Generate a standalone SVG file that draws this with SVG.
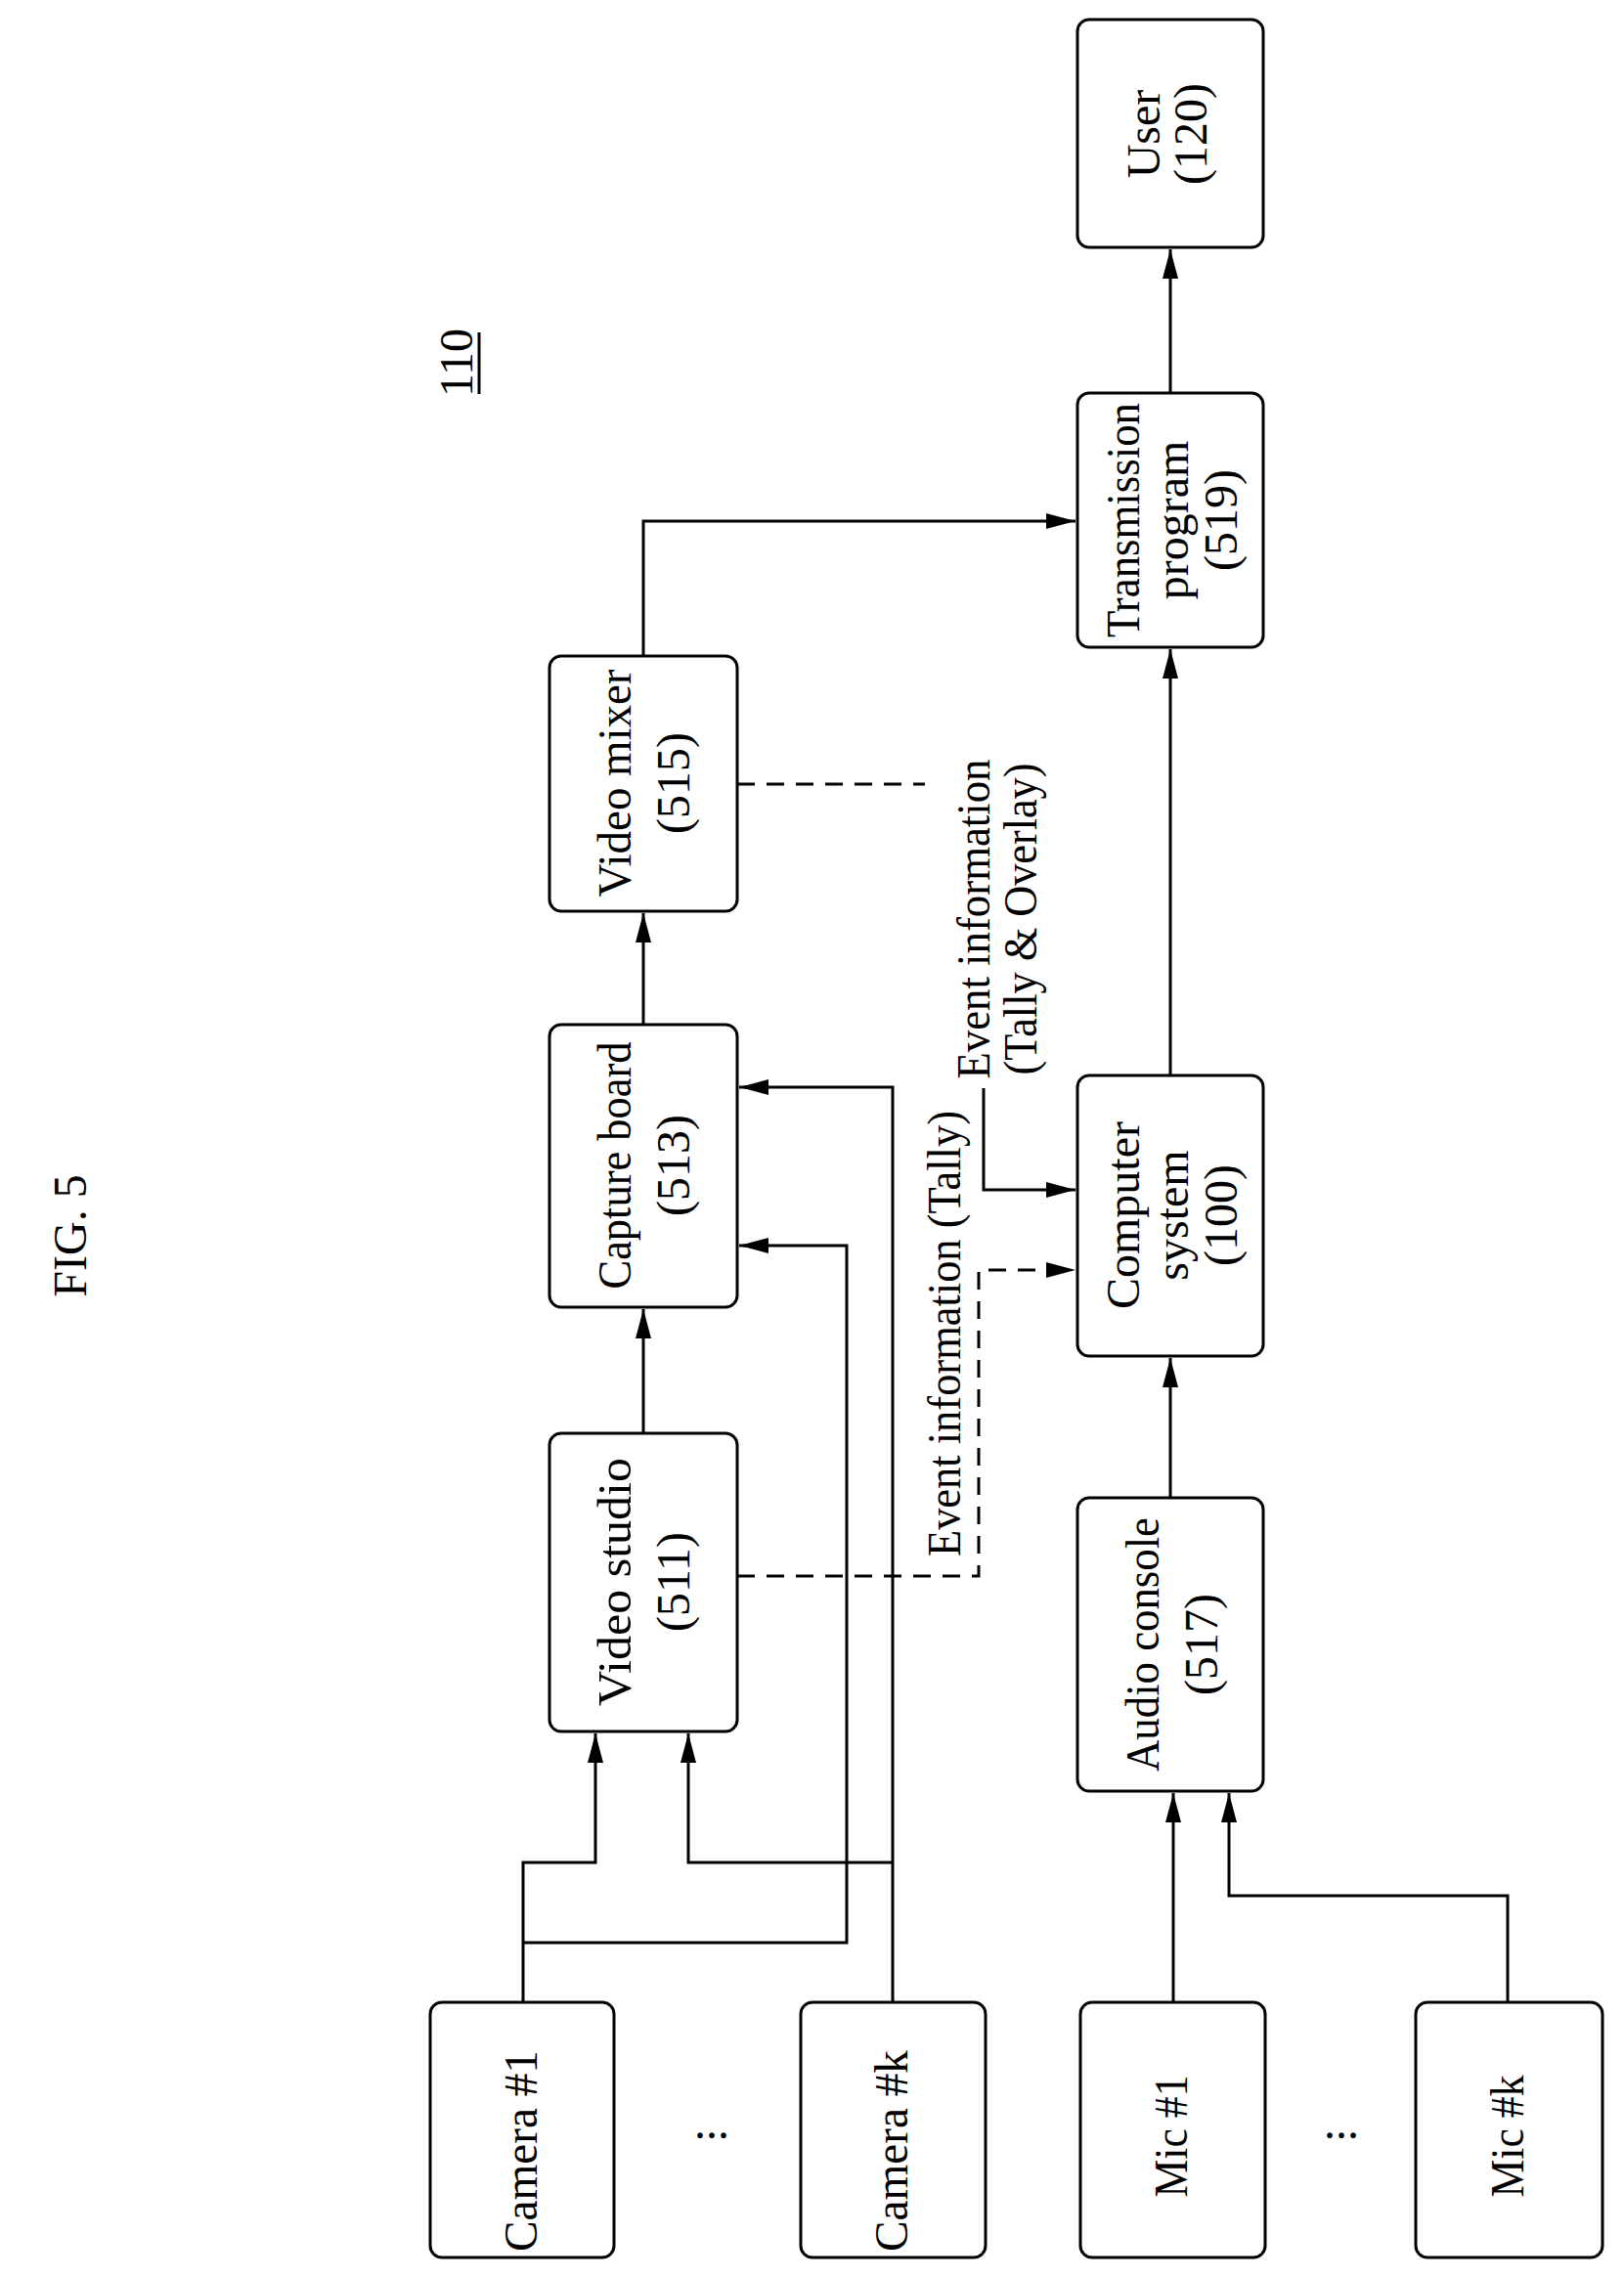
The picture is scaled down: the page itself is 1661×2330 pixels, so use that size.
<svg xmlns="http://www.w3.org/2000/svg" width="1661" height="2330" viewBox="0 0 1661 2330">
<style>
.box{fill:#fff;stroke:#000;stroke-width:3}
.t{font-family:"Liberation Serif",serif;font-size:48px;text-anchor:middle;fill:#000}
.c{fill:none;stroke:#000;stroke-width:3}
.d{fill:none;stroke:#000;stroke-width:3;stroke-dasharray:18 12}
</style>
<defs>
<marker id="a" markerWidth="30" markerHeight="16" refX="30" refY="8" orient="auto" markerUnits="userSpaceOnUse" viewBox="0 0 30 16"><path d="M0,0 L30,8 L0,16 z" fill="#000"/></marker>
</defs>
<rect width="1661" height="2330" fill="#fff"/>
<text class="t" font-size="40" transform="translate(88,1264) rotate(-90)">FIG. 5</text>
<g id="label110"><text class="t" font-size="42" transform="translate(483,371) rotate(-90)">110</text><line x1="490" y1="340" x2="490" y2="403" stroke="#000" stroke-width="3"/></g>

<g id="connectors">
<path class="c" d="M535,2048 V1905 H609 V1773" marker-end="url(#a)"/>
<path class="c" d="M535,1987 H866 V1274 H756" marker-end="url(#a)"/>
<path class="c" d="M913,2048 V1112 H756" marker-end="url(#a)"/>
<path class="c" d="M913,1905 H704 V1773" marker-end="url(#a)"/>
<path class="c" d="M1200,2048 V1834" marker-end="url(#a)"/>
<path class="c" d="M1542,2048 V1939 H1257 V1834" marker-end="url(#a)"/>
<path class="c" d="M1197,1532 V1389" marker-end="url(#a)"/>
<path class="c" d="M1197,1100 V664" marker-end="url(#a)"/>
<path class="c" d="M1197,402 V255" marker-end="url(#a)"/>
<path class="c" d="M658,1466 V1339" marker-end="url(#a)"/>
<path class="c" d="M658,1048 V934" marker-end="url(#a)"/>
<path class="c" d="M658,671 V533 H1100" marker-end="url(#a)"/>
<path class="d" d="M754,1612 H1001 V1299 H1100" marker-end="url(#a)"/>
<path class="d" d="M754,802 H946"/>
<path class="c" d="M1006,1113 V1217 H1100" marker-end="url(#a)"/>
<text class="t" font-size="38" transform="translate(982,1364) rotate(-90)" textLength="456" lengthAdjust="spacingAndGlyphs">Event information (Tally)</text>
<text class="t" font-size="38" transform="translate(1012,940) rotate(-90)" textLength="327" lengthAdjust="spacingAndGlyphs">Event information</text>
<text class="t" font-size="38" transform="translate(1060,940) rotate(-90)" textLength="319" lengthAdjust="spacingAndGlyphs">(Tally &amp; Overlay)</text>
</g>

<g id="camera1"><rect class="box" x="440" y="2048" width="188" height="261" rx="12"/><text class="t" font-size="58" transform="translate(549,2200) rotate(-90)" textLength="206" lengthAdjust="spacingAndGlyphs">Camera #1</text></g>
<g id="dots1"><text class="t" font-size="40" x="728" y="2187">...</text></g>
<g id="camerak"><rect class="box" x="819" y="2048" width="189" height="261" rx="12"/><text class="t" font-size="58" transform="translate(928,2200) rotate(-90)" textLength="206" lengthAdjust="spacingAndGlyphs">Camera #k</text></g>
<g id="mic1"><rect class="box" x="1105" y="2048" width="189" height="261" rx="12"/><text class="t" font-size="58" transform="translate(1214,2185) rotate(-90)" textLength="125" lengthAdjust="spacingAndGlyphs">Mic #1</text></g>
<g id="dots2"><text class="t" font-size="40" x="1372" y="2187">...</text></g>
<g id="mick"><rect class="box" x="1448" y="2048" width="191" height="261" rx="12"/><text class="t" font-size="58" transform="translate(1558,2185) rotate(-90)" textLength="125" lengthAdjust="spacingAndGlyphs">Mic #k</text></g>

<g id="studio"><rect class="box" x="562" y="1466" width="192" height="305" rx="12"/><text class="t" transform="translate(645,1618) rotate(-90)" textLength="254" lengthAdjust="spacingAndGlyphs">Video studio</text><text class="t" transform="translate(705,1618) rotate(-90)">(511)</text></g>
<g id="capture"><rect class="box" x="562" y="1048" width="192" height="289" rx="12"/><text class="t" transform="translate(645,1192) rotate(-90)" textLength="253" lengthAdjust="spacingAndGlyphs">Capture board</text><text class="t" transform="translate(705,1192) rotate(-90)">(513)</text></g>
<g id="mixer"><rect class="box" x="562" y="671" width="192" height="261" rx="12"/><text class="t" transform="translate(645,801) rotate(-90)" textLength="233" lengthAdjust="spacingAndGlyphs">Video mixer</text><text class="t" transform="translate(705,801) rotate(-90)">(515)</text></g>
<g id="audio"><rect class="box" x="1102" y="1532" width="190" height="300" rx="12"/><text class="t" transform="translate(1185,1682) rotate(-90)" textLength="260" lengthAdjust="spacingAndGlyphs">Audio console</text><text class="t" transform="translate(1245,1682) rotate(-90)">(517)</text></g>
<g id="computer"><rect class="box" x="1102" y="1100" width="190" height="287" rx="12"/><text class="t" transform="translate(1165,1243) rotate(-90)">Computer</text><text class="t" transform="translate(1215,1243) rotate(-90)">system</text><text class="t" transform="translate(1265,1243) rotate(-90)">(100)</text></g>
<g id="transmission"><rect class="box" x="1102" y="402" width="190" height="260" rx="12"/><text class="t" font-size="46" transform="translate(1165,532) rotate(-90)" textLength="240" lengthAdjust="spacingAndGlyphs">Transmission</text><text class="t" font-size="46" transform="translate(1215,532) rotate(-90)">program</text><text class="t" font-size="46" transform="translate(1265,532) rotate(-90)">(519)</text></g>
<g id="user"><rect class="box" x="1102" y="20" width="190" height="233" rx="12"/><text class="t" transform="translate(1186,137) rotate(-90)">User</text><text class="t" transform="translate(1234,137) rotate(-90)">(120)</text></g>
</svg>
